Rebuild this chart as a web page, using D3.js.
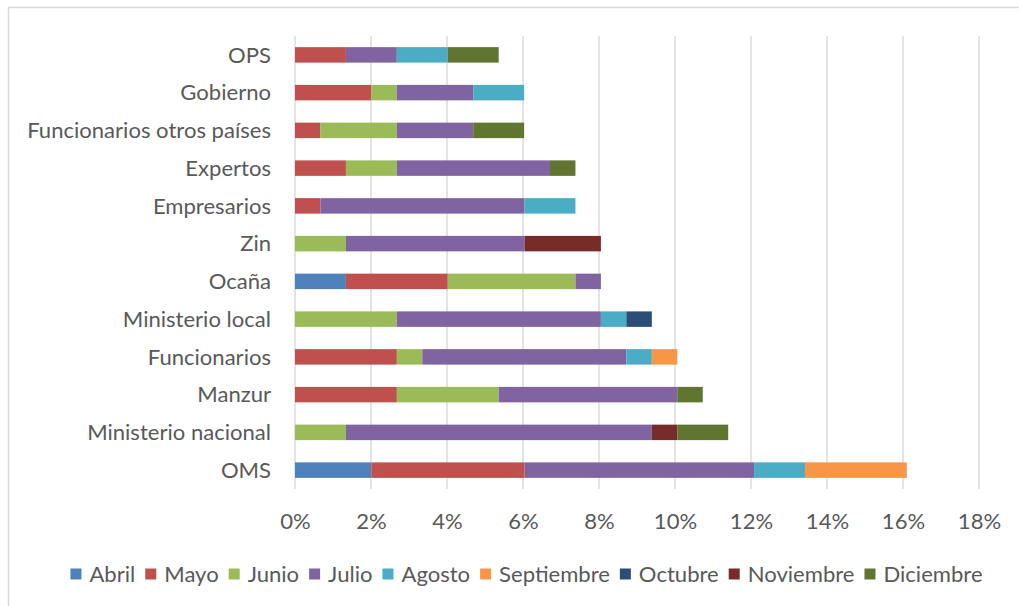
<!DOCTYPE html>
<html>
<head>
<meta charset="utf-8">
<script src="https://cdn.jsdelivr.net/npm/d3@7"></script>
<style>
  body { margin: 0; background: #fff; }
  svg { display: block; }
  text { font-family: Lato, "Open Sans", sans-serif; fill: #595959; }
</style>
</head>
<body>
<svg width="1019" height="606"></svg>
<script>
// categories, top to bottom as drawn
var categories = ["OPS", "Gobierno", "Funcionarios otros países", "Expertos", "Empresarios",
  "Zin", "Ocaña", "Ministerio local", "Funcionarios", "Manzur", "Ministerio nacional", "OMS"];

var months = ["Abril", "Mayo", "Junio", "Julio", "Agosto", "Septiembre", "Octubre", "Noviembre", "Diciembre"];
var colors = ["#4F81BD", "#C0504D", "#9BBB59", "#8064A2", "#4BACC6", "#F79646", "#2C4D75", "#772C2A", "#5F7530"];

// percent per month, in category order above
var abril      = [0,    0,    0,    0,    0,    0,    1.34, 0,    0,    0,    0,    2.01];
var mayo       = [1.34, 2.01, 0.67, 1.34, 0.67, 0,    2.68, 0,    2.68, 2.68, 0,    4.03];
var junio      = [0,    0.67, 2.01, 1.34, 0,    1.34, 3.36, 2.68, 0.67, 2.68, 1.34, 0];
var julio      = [1.34, 2.01, 2.01, 4.03, 5.37, 4.70, 0.67, 5.37, 5.37, 4.70, 8.05, 6.04];
var agosto     = [1.34, 1.34, 0,    0,    1.34, 0,    0,    0.67, 0.67, 0,    0,    1.34];
var septiembre = [0,    0,    0,    0,    0,    0,    0,    0,    0.67, 0,    0,    2.68];
var octubre    = [0,    0,    0,    0,    0,    0,    0,    0.67, 0,    0,    0,    0];
var noviembre  = [0,    0,    0,    0,    0,    2.01, 0,    0,    0,    0,    0.67, 0];
var diciembre  = [1.34, 0,    1.34, 0.67, 0,    0,    0,    0,    0,    0.67, 1.34, 0];

var ticks = [0, 2, 4, 6, 8, 10, 12, 14, 16, 18];

var series = [abril, mayo, junio, julio, agosto, septiembre, octubre, noviembre, diciembre];

var rows = categories.map(function(c, i) {
  var r = { cat: c };
  months.forEach(function(m, j) { r[m] = series[j][i]; });
  return r;
});

var svg = d3.select("svg");

// chart border
svg.append("rect")
  .attr("x", 8.5).attr("y", 7.5)
  .attr("width", 1030).attr("height", 620)
  .attr("fill", "none").attr("stroke", "#d9d9d9").attr("stroke-width", 1.5);

// fit font size so the longest label matches the reference width
var probe = svg.append("text").attr("font-size", 20).text("Funcionarios otros países");
var fs = 20 * 244 / probe.node().getComputedTextLength();
probe.remove();

var x = d3.scaleLinear().domain([0, 18]).range([295, 979]);
var y = d3.scaleBand().domain(categories).range([36, 489])
  .paddingInner(0.59).paddingOuter(0.295);

// gridlines
svg.append("g").selectAll("line")
  .data(ticks)
  .enter().append("line")
  .attr("x1", function(d) { return x(d); })
  .attr("x2", function(d) { return x(d); })
  .attr("y1", 36).attr("y2", 489)
  .attr("stroke", "#d9d9d9").attr("stroke-width", 1.4);

// bars
var stack = d3.stack().keys(months)(rows);

svg.append("g").selectAll("g")
  .data(stack)
  .enter().append("g")
  .attr("fill", function(d, i) { return colors[i]; })
  .selectAll("rect")
  .data(function(d) { return d; })
  .enter().append("rect")
  .attr("x", function(d) { return x(d[0]); })
  .attr("width", function(d) { return x(d[1]) - x(d[0]); })
  .attr("y", function(d) { return y(d.data.cat); })
  .attr("height", y.bandwidth());

// x axis labels
var xAxis = d3.axisBottom(x).tickValues(ticks)
  .tickFormat(function(d) { return d + "%"; })
  .tickSize(0).tickPadding(0);

var gx = svg.append("g").attr("transform", "translate(0,521)").call(xAxis);
gx.select(".domain").remove();
gx.selectAll("text")
  .attr("font-size", fs).attr("font-family", null)
  .attr("dy", "0.35em").attr("y", 0);

// y axis labels
var yAxis = d3.axisLeft(y).tickSize(0).tickPadding(0);
var gy = svg.append("g").attr("transform", "translate(271,0)").call(yAxis);
gy.select(".domain").remove();
gy.selectAll("text")
  .attr("font-size", fs).attr("font-family", null)
  .attr("dy", "0.35em").attr("x", 0);

// legend
var legend = svg.append("g");
var items = legend.selectAll("g")
  .data(months)
  .enter().append("g");

items.append("rect")
  .attr("width", 11).attr("height", 11)
  .attr("y", -5.5)
  .attr("fill", function(d, i) { return colors[i]; });

items.append("text")
  .attr("x", 19).attr("dy", "0.35em")
  .attr("font-size", fs)
  .text(function(d) { return d; });

var pos = 0;
items.each(function() {
  var w = d3.select(this).select("text").node().getComputedTextLength();
  d3.select(this).attr("transform", "translate(" + pos + ",0)");
  pos += 19 + w + 10;
});
var total = pos - 10;
legend.attr("transform", "translate(" + (526.5 - total / 2) + ",574)");
</script>
</body>
</html>
